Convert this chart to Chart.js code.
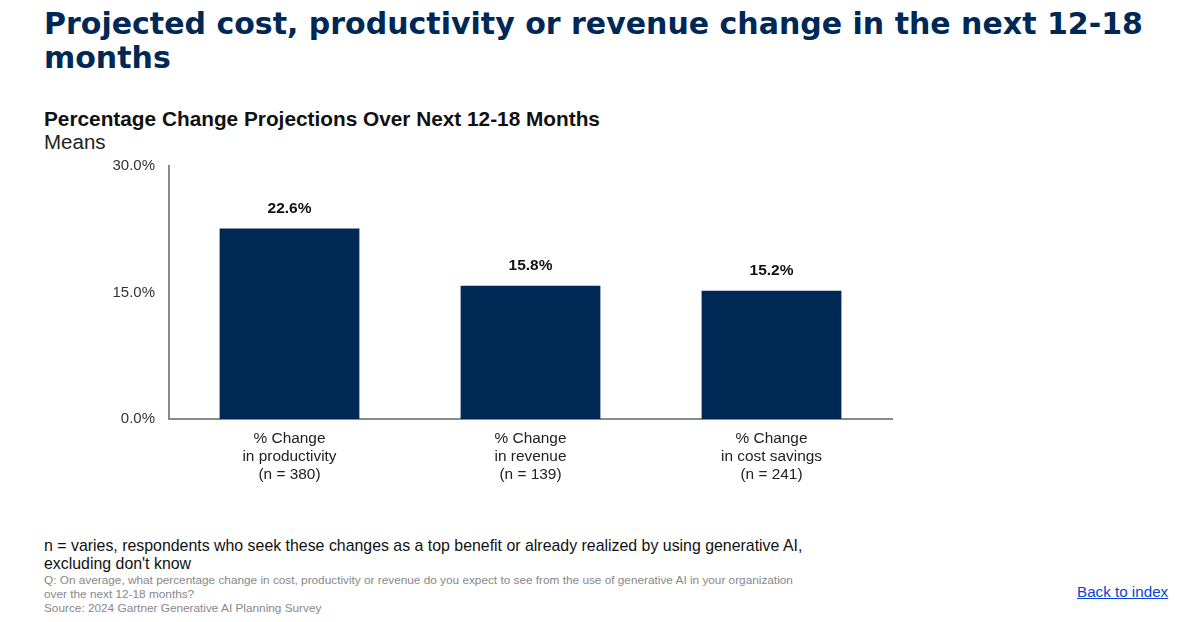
<!DOCTYPE html>
<html>
<head>
<meta charset="utf-8">
<script src="https://cdn.jsdelivr.net/npm/chart.js@4"></script>
<style>
  html, body { margin:0; padding:0; background:#fff; width:1200px; height:622px; overflow:hidden; font-family:"Liberation Sans", Arial, sans-serif; }
  .t { position:absolute; white-space:nowrap; }
  #title { left:44px; top:7px; font-family:"DejaVu Sans", sans-serif; font-size:30px; font-weight:bold; color:#002856; line-height:34px; white-space:normal; width:1125px; }
  #sub { left:44px; top:107px; font-size:20.8px; font-weight:bold; color:#111; }
  #means { left:44px; top:130px; font-size:20.5px; color:#222; }
  #wrap { position:absolute; left:0; top:143px; width:1200px; height:347px; }
  #note { left:44px; top:537px; font-size:15.9px; color:#111; line-height:18px; }
  #q { left:44px; top:573px; font-size:11.8px; color:#888; line-height:14px; }
  #back { left:1077px; top:583px; font-size:15.2px; color:#0645d6; text-decoration:underline; }
</style>
</head>
<body>
<div class="t" id="title">Projected cost, productivity or revenue change in the next 12-18 months</div>
<div class="t" id="sub">Percentage Change Projections Over Next 12-18 Months</div>
<div class="t" id="means">Means</div>
<div id="wrap"><canvas id="c"></canvas></div>
<div class="t" id="note">n = varies, respondents who seek these changes as a top benefit or already realized by using generative AI,<br>excluding don't know</div>
<div class="t" id="q">Q: On average, what percentage change in cost, productivity or revenue do you expect to see from the use of generative AI in your organization<br>over the next 12-18 months?<br>Source: 2024 Gartner Generative AI Planning Survey</div>
<div class="t" id="back">Back to index</div>
<script>
const categories = [
  ["% Change", "in productivity", "(n = 380)"],
  ["% Change", "in revenue", "(n = 139)"],
  ["% Change", "in cost savings", "(n = 241)"]
];
const values = [22.6, 15.8, 15.2];
const yTicks = [0, 15, 30];

const labelPlugin = {
  id: 'barLabels',
  afterDatasetsDraw(chart) {
    const ctx = chart.ctx;
    const meta = chart.getDatasetMeta(0);
    ctx.save();
    ctx.font = 'bold 15.5px "Liberation Sans", Arial, sans-serif';
    ctx.fillStyle = '#111';
    ctx.textAlign = 'center';
    ctx.textBaseline = 'middle';
    meta.data.forEach((bar, i) => {
      ctx.fillText(values[i].toFixed(1) + '%', bar.x, bar.y - 20);
    });
    ctx.restore();
  }
};

new Chart(document.getElementById('c'), {
  type: 'bar',
  data: {
    labels: categories,
    datasets: [{
      data: values,
      backgroundColor: '#002855',
      categoryPercentage: 1,
      barPercentage: 0.58
    }]
  },
  options: {
    responsive: true,
    maintainAspectRatio: false,
    animation: false,
    layout: { padding: { top: 8, right: 308, left: 0, bottom: 0 } },
    plugins: { legend: { display: false }, tooltip: { enabled: false } },
    scales: {
      y: {
        min: 0, max: 30,
        afterBuildTicks(scale) { scale.ticks = yTicks.map(v => ({ value: v })); },
        afterFit(scale) { scale.width = 169; },
        grid: { display: false, drawTicks: false },
        border: { display: true, color: '#8a8a8a', width: 2 },
        ticks: {
          padding: 14,
          color: '#333',
          font: { size: 15, family: '"Liberation Sans", Arial, sans-serif' },
          callback: v => v.toFixed(1) + '%'
        }
      },
      x: {
        afterFit(scale) { scale.height = 71; },
        grid: { display: false, drawTicks: false },
        border: { display: true, color: '#8a8a8a', width: 2 },
        ticks: {
          padding: 11,
          color: '#222',
          maxRotation: 0,
          font: { size: 15.4, family: '"Liberation Sans", Arial, sans-serif', lineHeight: 1.17 }
        }
      }
    }
  },
  plugins: [labelPlugin]
});
</script>
</body>
</html>
